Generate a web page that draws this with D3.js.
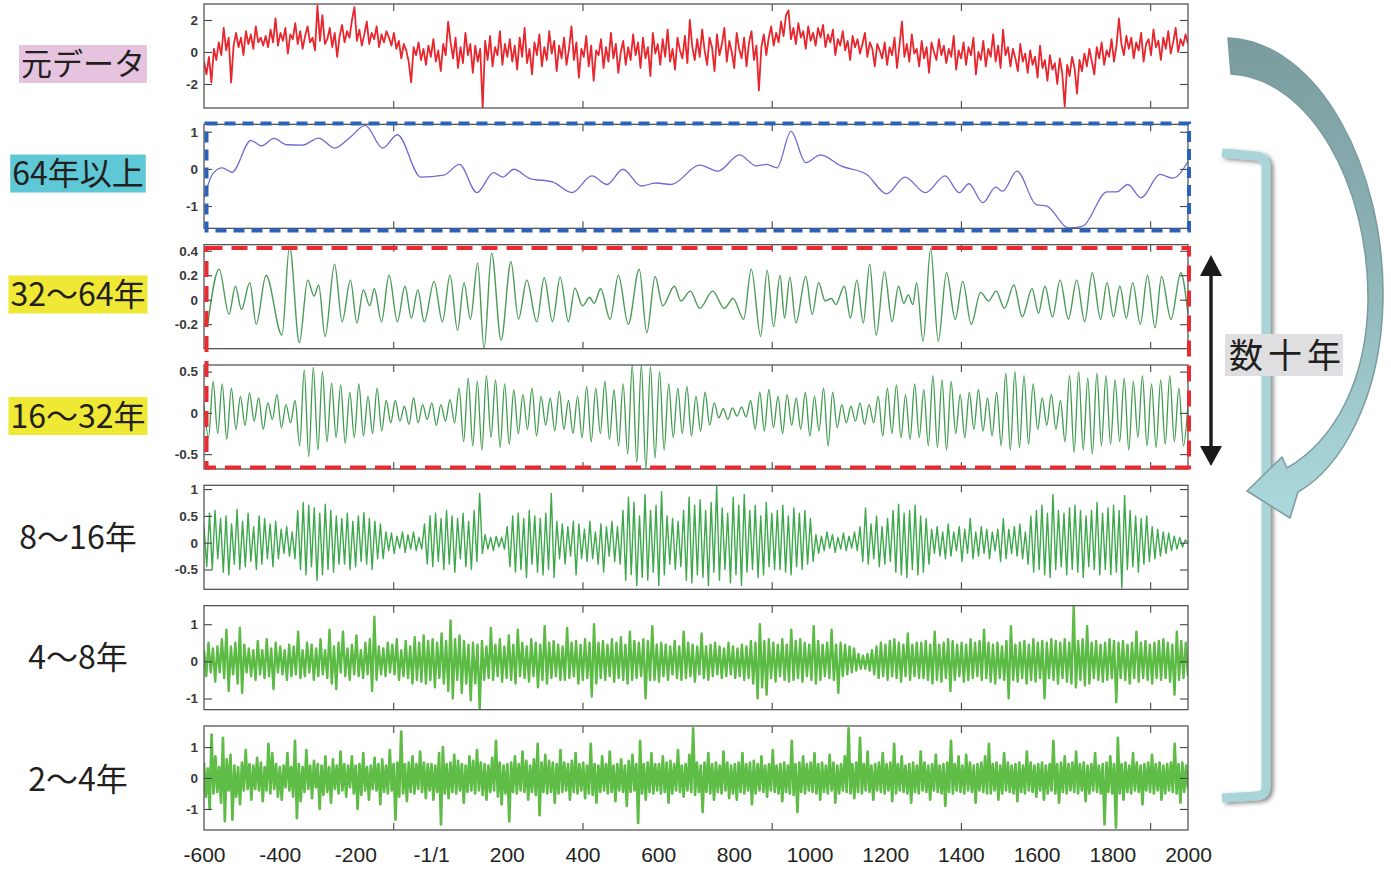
<!DOCTYPE html>
<html lang="ja">
<head>
<meta charset="utf-8">
<title>周期帯別の変動</title>
<script src="https://cdn.jsdelivr.net/npm/d3@7/dist/d3.min.js"></script>
<style>
  body { margin: 0; background: #fff; }
  svg { display: block; }
</style>
</head>
<body>
<svg id="chart" width="1391" height="877"></svg>
<script>
// ---- データ ----
const bandLabels = ['元データ', '64年以上', '32～64年', '16～32年', '8～16年', '4～8年', '2～4年'];
const xLabels = [-600, -400, -200, 0, 200, 400, 600, 800, 1000, 1200, 1400, 1600, 1800, 2000];
const innerTicks = [-100, 400, 900, 1400, 1900];
const yDomains = [[-3.5, 3], [-1.6, 1.2], [-0.4, 0.45], [-0.68, 0.58], [-0.87, 1.07], [-1.3, 1.5], [-1.68, 1.68]];
const yTicks = [[-2, 0, 2], [-1, 0, 1], [-0.2, 0, 0.2, 0.4], [-0.5, 0, 0.5], [-0.5, 0, 0.5, 1], [-1, 0, 1], [-1, 0, 1]];

// 元データ（-600〜2000年を等間隔）
const rawData = [
  -.6,-1.4,-.3,-1.9,.2,-.5,.6,-.2,1.5,.1,.9,-1.9,.4,1.2,.3,.9,-.2,1.3,.5,1.1,.2,1.6,.6,.9,.4,
  1,.3,1.4,.6,2.1,.4,1.2,.7,1.5,-.1,1.1,.8,1.8,.5,1.3,.2,1,1.6,.6,.9,.1,2.9,.7,2.3,.5,
  .8,1.5,.3,1.2,-.3,1,1.7,.6,1.3,.9,2,2.8,.7,1.4,.4,1.1,1.9,.5,1.2,.8,1.6,.3,1.1,.6,1.3,
  .9,.4,1.2,.2,.7,-.4,.5,.1,-.6,-1.9,.3,-.2,.6,-.5,.2,-.8,.4,-.3,.8,-.6,.1,-1.2,.5,-.2,1.9,
  .6,-.4,.9,-1,.3,-.7,1.2,-.2,.5,-1.3,.4,-.6,.2,-3.5,.7,-.5,1,-.9,.3,-.2,1.3,-.8,.5,-.3,.8,
  -.6,.4,-1.1,.9,-.3,1.5,-.7,.2,-1.4,.6,-.2,1.1,-.9,.3,-.5,1.3,-.1,.7,-1.2,.4,-.4,.9,-.8,.2,1.6,
  -.5,.6,-1.6,.2,-.3,1,-.9,.4,-1.8,.1,-.2,.8,-1,.3,-.6,1.2,-.4,.5,-1.3,0,.7,-.8,.3,-.5,1.1,
  -.2,.6,-1,.9,-.4,.3,-1.5,1.2,-.1,.5,-.8,.8,-.3,1.4,-.6,.2,-1.1,.9,.1,-.4,1,-.7,2,.3,-.5,
  .8,-.3,1.4,.1,-.8,.9,.3,-1.2,1.1,-.2,.5,1.5,-.6,.7,0,-1,1.2,.2,-.4,.9,-.9,.6,1.3,-.5,.4,
  -2.4,.3,1.1,-.2,.9,1.6,.4,1.2,.6,1.9,1,2.3,2.6,.8,1.5,.5,1.8,.9,1.3,.2,1.6,.7,1.2,.4,1.5,
  .9,1.7,.3,1.1,.6,1.4,-.2,.8,.4,1.3,.1,.7,-.5,1,.3,.8,-.1,.5,1.2,-.3,.6,.2,-.9,.5,.1,
  -.4,.6,-.8,.3,-.2,.9,-1,.4,1.9,-.3,.5,-.6,1.1,-.1,.2,-.9,.7,-.4,.3,-1.3,.6,0,-.5,.8,-.2,
  .4,-.7,.2,-.3,1,-1.1,.1,-.4,.6,-.8,.3,-.2,.9,-1.4,0,-.5,.7,-.9,.2,-.3,1.1,-.6,.4,-1,1.4,
  -.2,.3,-.9,.2,-.4,-1.2,.5,-.6,-.1,-1.3,.1,-.8,-.3,-1.6,.4,-1,-.5,-1.8,-.2,-1.1,-.7,-2,-.4,-1.3,-3.4,
  -.8,-1.5,-.3,-1,-2.6,-.5,-1.2,-.1,-.9,.2,-.6,-1.4,.3,-.4,.6,-.8,.1,-.3,.8,-.6,.4,2.1,.5,-.2,1,
  .2,.9,-.4,.6,.1,1.2,-.6,.5,.8,-.2,1.4,.3,.7,-.5,.9,.2,1.3,-.1,.6,1.5,0,.8,.4,1.1,.5
];

// 64年以上 [年, 値]
const over64 = [
  [-600,-.78],[-576,-.12],[-552,.03],[-526,-.09],[-476,.77],[-449,.62],[-415,.82],[-382,.65],[-340,.64],
  [-297,.83],[-255,.56],[-213,.86],[-174,1.17],[-128,.56],[-89,.92],[-27,-.22],[33,-.17],[75,.12],
  [121,-.64],[165,-.1],[189,-.22],[219,-.01],[261,-.26],[321,-.35],[372,-.64],[425,-.19],[465,-.42],
  [507,-.01],[555,-.46],[594,-.38],[634,-.42],[710,.1],[758,-.06],[815,.38],[859,.08],[887,.12],
  [914,.03],[951,1.01],[990,.17],[1029,.38],[1083,.08],[1151,-.15],[1204,-.67],[1252,-.22],[1306,-.64],
  [1358,-.19],[1396,-.64],[1421,-.4],[1458,-.91],[1492,-.49],[1510,-.6],[1548,-.06],[1599,-.96],
  [1627,-1],[1684,-1.59],[1722,-1.54],[1786,-.62],[1811,-.62],[1841,-.42],[1876,-.78],[1926,-.15],
  [1960,-.25],[2000,.2]
];

// 32～64年 [年, 値]（山と谷）
const band32 = [
  [-590,-.2],[-560,.25],[-534,-.12],[-517,.11],[-501,-.08],[-479,.14],[-462,-.2],[-436,.2],[-394,-.29],
  [-374,.44],[-348,-.35],[-326,.16],[-309,.03],[-297,.12],[-280,-.3],[-255,.29],[-235,-.18],[-213,.16],
  [-196,-.19],[-179,.08],[-162,-.05],[-150,.09],[-131,-.18],[-111,.2],[-89,-.18],[-69,.11],[-52,-.15],
  [-35,.08],[-18,-.18],[8,.15],[30,-.18],[50,.2],[70,-.25],[87,.14],[104,-.16],[123,.3],[140,-.4],
  [160,.38],[185,-.33],[211,.31],[231,-.16],[253,.16],[279,-.18],[299,.18],[321,-.18],[341,.185],
  [363,-.18],[380,.095],[400,-.05],[419,.02],[431,-.03],[448,.09],[473,-.16],[495,.2],[521,-.2],
  [550,.25],[570,-.27],[592,.19],[612,-.05],[643,.11],[660,-.01],[685,.07],[710,-.07],[744,.07],
  [775,-.07],[798,.01],[826,-.16],[846,.25],[871,-.3],[888,.24],[905,-.22],[922,.2],[934,-.15],
  [948,.185],[964,-.19],[990,.19],[1007,-.12],[1024,.14],[1041,-.01],[1058,.01],[1069,-.04],[1092,.11],
  [1108,-.15],[1125,.16],[1142,-.19],[1159,.29],[1176,-.29],[1198,.23],[1218,-.18],[1235,.11],
  [1249,-.03],[1261,.04],[1273,-.04],[1283,.14],[1300,-.34],[1320,.42],[1340,-.34],[1362,.22],
  [1385,-.16],[1405,.15],[1427,-.2],[1452,.06],[1473,-.01],[1493,.07],[1515,-.07],[1540,.12],
  [1562,-.14],[1588,.09],[1605,-.11],[1622,.11],[1642,-.14],[1662,.16],[1684,-.16],[1706,.16],
  [1727,-.18],[1747,.22],[1769,-.16],[1786,.14],[1803,-.14],[1820,.11],[1837,-.15],[1854,.14],
  [1874,-.2],[1893,.2],[1913,-.23],[1930,.19],[1955,-.16],[1981,.22],[2000,-.12]
];

// 16～32年（等間隔の山と谷）
const band16 = [
  .1,-.3,.38,-.25,.35,-.32,.3,-.2,
  .2,-.15,.24,-.1,.18,-.2,.12,-.08,.22,-.18,.1,-.12,.15,
  -.4,.52,-.53,.55,-.45,.5,-.35,
  .36,-.3,.34,-.37,.25,-.3,.35,-.28,.2,-.25,.3,-.22,.15,
  -.12,.15,-.1,.08,-.14,.18,-.12,.1,-.08,.12,-.15,.1,-.1,.16,-.12,
  .3,-.35,.42,-.4,.38,-.45,.45,-.3,.4,-.42,.35,-.38,.28,
  -.25,.22,-.2,.3,-.28,.2,-.15,.18,-.22,.26,-.2,.15,-.25,.2,
  -.3,.32,-.35,.3,-.25,.38,-.32,.28,-.4,.35,
  -.5,.58,-.6,.58,-.68,.56,-.55,.5,-.45,.35,
  -.3,.3,-.25,.32,-.28,.2,-.22,.25,-.15,.12,
  -.06,.05,-.08,.06,-.04,.07,-.05,
  .15,-.2,.25,-.22,.28,-.18,.2,-.25,.22,-.15,.18,-.2,.25,-.28,.2,-.22,.3,-.4,.25,-.18,
  .1,-.12,.08,-.1,.12,-.14,.1,-.12,
  .2,-.28,.3,-.25,.34,-.3,.22,-.32,.35,-.3,.28,
  -.4,.45,-.42,.4,-.45,.38,
  -.25,.22,-.3,.25,-.2,.28,-.22,.18,-.28,.25,
  -.4,.48,-.45,.5,-.42,.45,-.38,.35,
  -.2,.18,-.15,.22,-.2,.15,
  -.35,.45,-.48,.5,-.45,.42,-.5,.48,-.4,.45,-.38,
  .4,-.35,.42,-.45,.38,-.3,.45,-.4,.35,-.42,.4,-.38,.45,-.35,.3,-.4,.1
];

// 8～16年
const band8 = [
  .3,-.45,.55,-.5,.6,-.3,.45,-.55,.5,-.6,.35,-.4,.62,-.5,.4,-.45,.55,-.35,.3,-.5,.5,-.4,.45,-.3,.35,-.45,.4,
  -.3,.25,-.2,.3,-.25,.2,-.3,
  .6,-.5,.75,-.6,.7,-.45,.65,-.7,.55,-.6,.72,-.5,.6,-.55,.5,-.4,
  .45,-.4,.55,-.5,.4,-.45,.5,-.35,.56,-.4,.45,-.5,.4,-.3,.35,-.3,
  .2,-.15,.18,-.2,.12,-.1,.2,-.18,.15,-.12,.2,-.15,.1,-.12,
  .35,-.4,.5,-.45,.55,-.35,.45,-.5,.6,-.4,.5,-.55,.45,-.3,.55,-.45,.4,-.5,.6,-.35,.92,
  -.2,.15,-.12,.1,-.15,.12,-.08,.1,-.12,
  .3,-.45,.5,-.55,.55,-.5,.45,-.65,.6,-.4,.5,-.55,.45,-.6,.55,-.5,.92,-.65,.4,
  -.3,.35,-.4,.3,-.25,.4,-.6,.35,-.3,.25,-.35,.4,-.3,.2,-.4,.35,-.55,.3,-.25,.4,-.35,.3,-.4,
  .6,-.7,.85,-.6,.75,-.8,.5,-.65,.9,-.7,.6,-.55,.7,-.8,.95,-.6,.5,-.4,.45,-.5,.4,-.45,.6,-.7,.85,-.75,.7,-.6,
  .8,-.65,.6,-.8,.75,-.55,1.06,-.7,.65,-.5,.55,-.75,.85,-.6,.7,-.8,.9,-.55,.6,-.5,.7,-.65,.5,-.6,.75,-.45,.55,-.5,
  .6,-.5,.7,-.55,.5,-.6,.65,-.45,.55,-.5,.6,-.4,.45,-.35,
  .15,-.2,.12,-.15,.2,-.1,.15,-.18,.1,-.12,.18,-.15,.12,-.1,.2,-.15,
  .3,-.35,.65,-.4,.35,-.3,.5,-.45,.3,-.4,.45,-.35,
  .6,-.55,.72,-.6,.55,-.65,.6,-.5,.7,-.6,.5,-.55,.45,-.4,
  .25,-.2,.3,-.25,.2,-.3,.35,-.25,.2,-.15,.3,-.35,.25,-.2,.45,-.3,.2,-.25,.3,-.2,.25,-.3,.2,-.15,.25,-.35,.45,-.3,.25,-.2,.3,-.25,.35,-.3,.2,
  -.4,.5,-.55,.6,-.5,.7,-.6,.55,-.65,.9,-.5,.6,-.45,.55,-.6,.65,-.5,.7,-.55,.6,-.65,.5,-.45,.6,-.5,.75,-.6,.55,
  -.5,.65,-.6,.7,-.55,.6,-.84,.88,-.5,.6,-.45,.5,-.55,.45,-.4,.5,
  -.35,.3,-.3,.25,-.25,.2,-.2,.18,-.15,.12,-.12,.1,-.08,.05,0
];

// 4～8年
const band4 = [
  .3,-.4,.5,-.3,.35,-.55,.4,-.3,.6,-.45,.85,-.8,.4,-.35,.5,-.6,.9,-.85,.45,-.3,.35,-.4,.3,-.5,.55,-.35,.3,-.45,.6,-.4,.35,-.75,.5,-.3,.4,-.35,.3,-.5,.45,-.4,
  .4,-.35,.8,-.45,.3,-.4,.5,-.3,.45,-.5,.35,-.4,.6,-.35,.3,-.45,.85,-.6,.4,-.75,.5,-.3,.8,-.4,.35,-.5,.45,-.35,.7,-.4,.3,-.45,.5,-.35,.6,-.8,1.2,-.5,.4,-.35,
  .35,-.4,.5,-.3,.45,-.35,.6,-.5,.3,-.4,.55,-.45,.4,-.6,.65,-.5,.5,-.55,.7,-.6,.55,-.5,.6,-.7,.5,-.45,.75,-.6,.55,-.8,1.1,-1,.6,-.5,.7,-.85,.55,-.6,.45,-1.05,
  .5,-.6,.45,-1.3,.55,-.5,.4,-.45,.9,-.5,.45,-.4,.6,-.55,.4,-.45,.7,-.5,.45,-.6,.85,-.4,.5,-.45,.4,-.55,.6,-.4,.5,-.7,.45,-.5,.95,-.6,.5,-.45,.55,-.4,.45,-.5,
  .4,-.5,.9,-.45,.5,-.4,.55,-.6,.45,-.5,.6,-.45,.5,-.95,1,-.6,.5,-.45,.55,-.5,.45,-.4,.6,-.55,.5,-.45,.65,-.5,.45,-.6,.8,-.5,.55,-.45,.5,-.4,.6,-1,.55,-.5,
  .95,-.5,.45,-.55,.5,-.4,.45,-.5,.4,-.35,.55,-.45,.4,-.5,.8,-.45,.5,-.4,.45,-.55,.4,-.35,.75,-.45,.4,-.5,.45,-.4,.5,-.35,.4,-.45,.35,-.4,.5,-.35,.4,-.45,.35,-.4,
  .45,-.5,.4,-.45,.55,-.6,.5,-1,1,-.7,.55,-.9,.6,-.45,.5,-.55,.45,-.4,.6,-.5,.45,-.55,.85,-.5,.55,-.45,.6,-.55,.5,-.4,.45,-.5,.95,-.6,.55,-.5,.45,-.4,.5,-.45,
  .85,-.5,.45,-.85,.5,-.4,.45,-.35,.4,-.3,.35,-.25,.2,-.2,.15,-.2,.2,-.25,.3,-.35,.4,-.45,.5,-.4,.45,-.5,.55,-.4,.6,-.45,.5,-.55,.45,-.4,.75,-.5,.45,-.4,.5,-.45,
  .5,-.45,.55,-.5,.45,-.6,.8,-.5,.45,-.55,.5,-.45,.6,-.8,.55,-.5,.45,-.4,.5,-.55,.45,-.5,.6,-.45,.5,-.4,.55,-.5,.85,-.45,.5,-.55,.45,-.6,.5,-.45,.4,-.5,.55,-1,
  .95,-.5,.45,-.55,.5,-.45,.55,-.6,.45,-.5,.6,-.55,.5,-.45,.55,-1,.5,-.45,.6,-.5,.55,-.6,.5,-.45,.6,-.55,.5,-.6,1.48,-.7,.55,-.5,.6,-.65,.95,-.6,.5,-.45,.55,-.5,
  .45,-.55,.5,-.5,.6,-.45,.55,-1.1,.5,-.45,.55,-.5,.45,-.6,.5,-.45,.8,-.55,.5,-.45,.55,-.5,.45,-.6,.5,-.45,.55,-.5,.6,-.45,.5,-.55,.45,-.9,.8,-.5,.55,-.45,.5,-.4
];

// 2～4年
const band2 = [
  .5,-.6,.3,-1,1.4,-.5,.7,-.45,.35,-.8,1.3,-1.4,.6,-.4,.75,-1.35,.4,-.6,.35,-.85,.5,-.4,.9,-.35,.45,-.7,.4,-.35,.65,-.4,.5,-.75,.35,-.4,1.1,-.5,.8,-.35,.45,-.6,
  .35,-.7,.4,-.3,.8,-.4,.35,-.6,1.2,-1.3,.45,-.75,.35,-.45,.9,-.35,.4,-.65,.55,-.3,.45,-1,.4,-.55,.7,-.45,.35,-.8,.6,-.35,.4,-.5,.85,-.4,.45,-.6,.4,-.3,.7,-.5,
  .4,-1,.45,-.55,.8,-.4,.35,-.7,.4,-.35,.65,-.4,.45,-.85,.6,-.45,.4,-.5,.9,-.4,.45,-1.35,.5,-.6,1.5,-.5,.45,-.75,.5,-.45,.7,-.5,.45,-.35,.85,-.45,.5,-.65,.45,-.4,
  .45,-.7,.4,-.45,.8,-1.5,1,-.5,.45,-.65,.5,-.45,.75,-.5,.55,-.4,.45,-.8,.4,-.45,.7,-.4,.55,-.5,.9,-.4,.5,-.55,.45,-.7,.4,-.45,.65,-.4,1.2,-.6,.5,-.85,.4,-.5,
  .45,-1.4,.5,-.45,.7,-.5,.45,-.4,.85,-.45,.55,-.7,.4,-.45,.6,-.55,1.1,-1.2,.5,-.45,.75,-.5,.55,-.45,.5,-.8,.45,-.5,.9,-.45,.5,-.4,.45,-.7,.55,-.45,.8,-.5,.45,-.4,
  .5,-.65,.4,-.5,1.1,-.55,.45,-.8,.4,-.45,.7,-.4,.45,-.5,.85,-.45,.4,-.75,.45,-.4,.6,-.45,.4,-.9,.55,-.45,.75,-.4,.45,-1.45,1.2,-.5,.45,-.7,.5,-.45,.8,-.5,.45,-.4,
  .45,-.5,.7,-.45,.5,-.8,.55,-.5,.45,-.4,.9,-.45,.4,-.6,.45,-.4,.75,-.45,1.6,-.55,.5,-.45,.4,-1.1,.5,-.45,.8,-.5,.45,-.7,.5,-.45,.4,-.5,.85,-.4,.5,-.65,.4,-.5,
  .45,-.7,.5,-.45,.8,-.5,.45,-.4,.5,-.85,.55,-.5,.45,-.4,.7,-.45,.4,-.6,.45,-.4,.9,-.45,.4,-.5,.45,-.75,.5,-.45,.4,-.5,1.2,-.55,.45,-1.1,.5,-.45,.7,-.5,.45,-.4,
  .5,-.45,.8,-.5,.45,-.7,.5,-.45,.4,-.5,.75,-.4,.5,-.8,.4,-.5,.45,-.4,.7,-.45,1.6,-.5,.45,-.65,.5,-.45,1.3,-.5,.45,-.4,.85,-.45,.4,-.7,.45,-.4,.5,-.45,.8,-.5,
  .45,-.4,.5,-.75,1.1,-.5,.45,-.4,.7,-.45,.4,-.5,.45,-.8,.5,-.45,.4,-.5,.85,-.4,.5,-.45,.4,-.7,.45,-.4,.75,-.45,.4,-.5,.45,-.9,.5,-.45,1.2,-.5,.45,-.4,.7,-.45,
  .4,-.5,.75,-.4,.5,-.45,.4,-.8,.45,-.4,.5,-.45,.7,-.5,1.1,-.5,.45,-.4,.5,-.7,.4,-.5,.8,-.4,.5,-.45,.4,-.5,.45,-.75,.5,-.45,.4,-.5,.85,-.4,.5,-.45,.4,-.6,
  .45,-.4,.5,-.7,.4,-.5,.45,-.4,1.2,-.5,.45,-.8,.5,-.45,.7,-.5,.45,-.4,.5,-.45,.85,-.5,.45,-.4,.5,-.75,.4,-.5,.45,-.4,.8,-.45,.4,-.5,.45,-1.5,.5,-.45,.7,-.5,
  .45,-1.6,1.3,-.5,.45,-.7,.5,-.45,.4,-.5,.8,-.4,.5,-.45,.4,-.85,.45,-.4,.5,-.45,.75,-.5,.45,-.4,.5,-.7,.4,-.5,.45,-.4,.5,-.45,1.1,-.5,.45,-.8,.5,-.45,.4,-.35
];

// ---- レイアウト ----
const left = 204, right = 1188;
const panelTop = 4, panelStep = 120.33, panelH = 104;
const tickFont = '"Liberation Sans", Arial, Helvetica, sans-serif';
const jpFont = '"Noto Sans CJK JP", "Noto Sans CJK SC", sans-serif';

const svg = d3.select('#chart');
const defs = svg.append('defs');
const x = d3.scaleLinear().domain([-600, 2000]).range([left, right]);

// 等間隔の系列を [年, 値] に変換
function evenly(values) {
  const idx = d3.scaleLinear().domain([0, values.length - 1]).range([-600, 2000]);
  return values.map((v, i) => [idx(i), v]);
}

const panels = [
  { data: evenly(rawData), color: '#e8262d', sw: 1.8, curve: d3.curveLinear, bg: '#e6c4e0', size: 31, lx: 83, dy: 8 },
  { data: over64, color: '#6c6cd2', sw: 1.3, curve: d3.curveMonotoneX, bg: '#5fc8d6', size: 32, lx: 78, dy: -2.8 },
  { data: band32, color: '#4a9a58', sw: 1.4, curve: d3.curveMonotoneX, bg: '#efe936', size: 32, lx: 78, dy: -2.2 },
  { data: evenly(band16), color: '#3f9b4e', sw: 1.3, curve: d3.curveMonotoneX, bg: '#efe936', size: 32, lx: 78, dy: -1 },
  { data: evenly(band8), color: '#3ea84c', sw: 1.4, curve: d3.curveLinear, bg: null, size: 32, lx: 78, dy: 0 },
  { data: evenly(band4), color: '#5cbb45', sw: 2.4, curve: d3.curveLinear, bg: null, size: 32, lx: 78, dy: 0 },
  { data: evenly(band2), color: '#5fbd47', sw: 2.7, curve: d3.curveLinear, bg: null, size: 32, lx: 78, dy: 1 }
];

panels.forEach((p, i) => {
  const top = panelTop + i * panelStep;
  const bottom = top + panelH;
  const y = d3.scaleLinear().domain(yDomains[i]).range([bottom, top]);
  const g = svg.append('g');

  defs.append('clipPath').attr('id', 'clip' + i)
    .append('rect').attr('x', left).attr('y', top).attr('width', right - left).attr('height', panelH);

  // 系列
  const line = d3.line().x(d => x(d[0])).y(d => y(d[1])).curve(p.curve);
  g.append('path')
    .datum(p.data)
    .attr('clip-path', `url(#clip${i})`)
    .attr('fill', 'none')
    .attr('stroke', p.color)
    .attr('stroke-width', p.sw)
    .attr('stroke-linejoin', 'round')
    .attr('d', line);

  // 目盛り（内向き）
  const gl = g.append('g').attr('transform', `translate(${left},0)`)
    .call(d3.axisLeft(y).tickValues(yTicks[i]).tickSize(-8).tickPadding(6).tickFormat(d => String(d)));
  const gr = g.append('g').attr('transform', `translate(${right},0)`)
    .call(d3.axisRight(y).tickValues(yTicks[i]).tickSize(-8).tickFormat(() => ''));
  const gt = g.append('g').attr('transform', `translate(0,${top})`)
    .call(d3.axisTop(x).tickValues(innerTicks).tickSize(-7).tickFormat(() => ''));
  const gb = g.append('g').attr('transform', `translate(0,${bottom})`)
    .call(d3.axisBottom(x).tickValues(innerTicks).tickSize(-7).tickFormat(() => ''));
  [gl, gr, gt, gb].forEach(a => {
    a.select('.domain').remove();
    a.selectAll('line').attr('stroke', '#444').attr('stroke-width', 1.1);
  });
  gl.selectAll('text')
    .attr('font-family', tickFont)
    .attr('font-size', 13.5)
    .attr('font-weight', 'bold')
    .attr('fill', '#3a3a3a');

  // 枠
  g.append('rect')
    .attr('x', left).attr('y', top)
    .attr('width', right - left).attr('height', panelH)
    .attr('fill', 'none').attr('stroke', '#555').attr('stroke-width', 1.3);

  // 左のラベル
  const cy = top + panelH / 2 + p.dy;
  const t = svg.append('text')
    .attr('x', p.lx).attr('y', cy + 0.37 * p.size)
    .attr('text-anchor', 'middle')
    .attr('font-family', jpFont)
    .attr('font-size', p.size)
    .attr('fill', '#231f20')
    .text(bandLabels[i]);
  if (p.bg) {
    const b = t.node().getBBox();
    svg.insert('rect', () => t.node())
      .attr('x', b.x - 2).attr('y', cy - 19)
      .attr('width', b.width + 4).attr('height', 38)
      .attr('fill', p.bg);
  }
});

// 横軸ラベル
const lastBottom = panelTop + 6 * panelStep + panelH;
const gx = svg.append('g').attr('transform', `translate(0,${lastBottom})`)
  .call(d3.axisBottom(x).tickValues(xLabels).tickSize(0).tickPadding(17)
    .tickFormat(d => d === 0 ? '-1/1' : String(d)));
gx.select('.domain').remove();
gx.selectAll('text')
  .attr('font-family', tickFont)
  .attr('font-size', 21)
  .attr('fill', '#231f20');

// 破線の囲み
svg.append('rect')
  .attr('x', 206.5).attr('y', 123.5).attr('width', 982.5).attr('height', 107)
  .attr('fill', 'none').attr('stroke', '#2a62b8').attr('stroke-width', 4)
  .attr('stroke-dasharray', '11 7');
svg.append('rect')
  .attr('x', 206.5).attr('y', 248).attr('width', 982.5).attr('height', 219.5)
  .attr('fill', 'none').attr('stroke', '#ea2a30').attr('stroke-width', 4)
  .attr('stroke-dasharray', '16 9');

// ---- 右側の注釈 ----
const shadow = defs.append('filter').attr('id', 'shadow')
  .attr('x', '-20%').attr('y', '-5%').attr('width', '160%').attr('height', '110%');
shadow.append('feDropShadow')
  .attr('dx', 3).attr('dy', 2).attr('stdDeviation', 2)
  .attr('flood-color', '#333').attr('flood-opacity', 0.55);

const grad = defs.append('linearGradient').attr('id', 'arrowGrad')
  .attr('gradientUnits', 'userSpaceOnUse')
  .attr('x1', 1250).attr('y1', 40).attr('x2', 1290).attr('y2', 500);
grad.append('stop').attr('offset', 0).attr('stop-color', '#7a9c9f');
grad.append('stop').attr('offset', 0.5).attr('stop-color', '#8db3b6');
grad.append('stop').attr('offset', 1).attr('stop-color', '#aad7db');

// 括弧
svg.append('path')
  .attr('d', 'M1222,153 L1256,156 Q1266,157 1266,167 L1266,786 Q1266,796 1256,796 L1222,798')
  .attr('fill', 'none')
  .attr('stroke', '#a9d5d9')
  .attr('stroke-width', 9)
  .attr('filter', 'url(#shadow)');

// 曲がった矢印
svg.append('path')
  .attr('d', 'M1228,38 C1320,42 1385,170 1383,300 C1381,400 1340,468 1298,492 ' +
             'L1290,518 L1247,491 L1282,457 L1287,468 ' +
             'C1335,440 1367,380 1368,300 C1369,185 1310,78 1231,74 Z')
  .attr('fill', 'url(#arrowGrad)')
  .attr('stroke', '#7b9b9e')
  .attr('stroke-width', 1.5)
  .attr('stroke-linejoin', 'round');

// 両矢印
const dbl = svg.append('g').attr('fill', '#1a1a1a');
dbl.append('rect').attr('x', 1209.3).attr('y', 272).attr('width', 3.4).attr('height', 178);
dbl.append('path').attr('d', 'M1211,255 L1222,276 L1200,276 Z');
dbl.append('path').attr('d', 'M1211,466 L1222,446 L1200,446 Z');

// 数十年
svg.append('rect')
  .attr('x', 1225).attr('y', 334).attr('width', 118).attr('height', 42)
  .attr('fill', '#dfdfe1');
svg.append('text')
  .attr('x', 1229).attr('y', 368)
  .attr('font-family', jpFont)
  .attr('font-size', 34)
  .attr('letter-spacing', 5)
  .attr('fill', '#231f20')
  .text('数十年');
</script>
</body>
</html>
